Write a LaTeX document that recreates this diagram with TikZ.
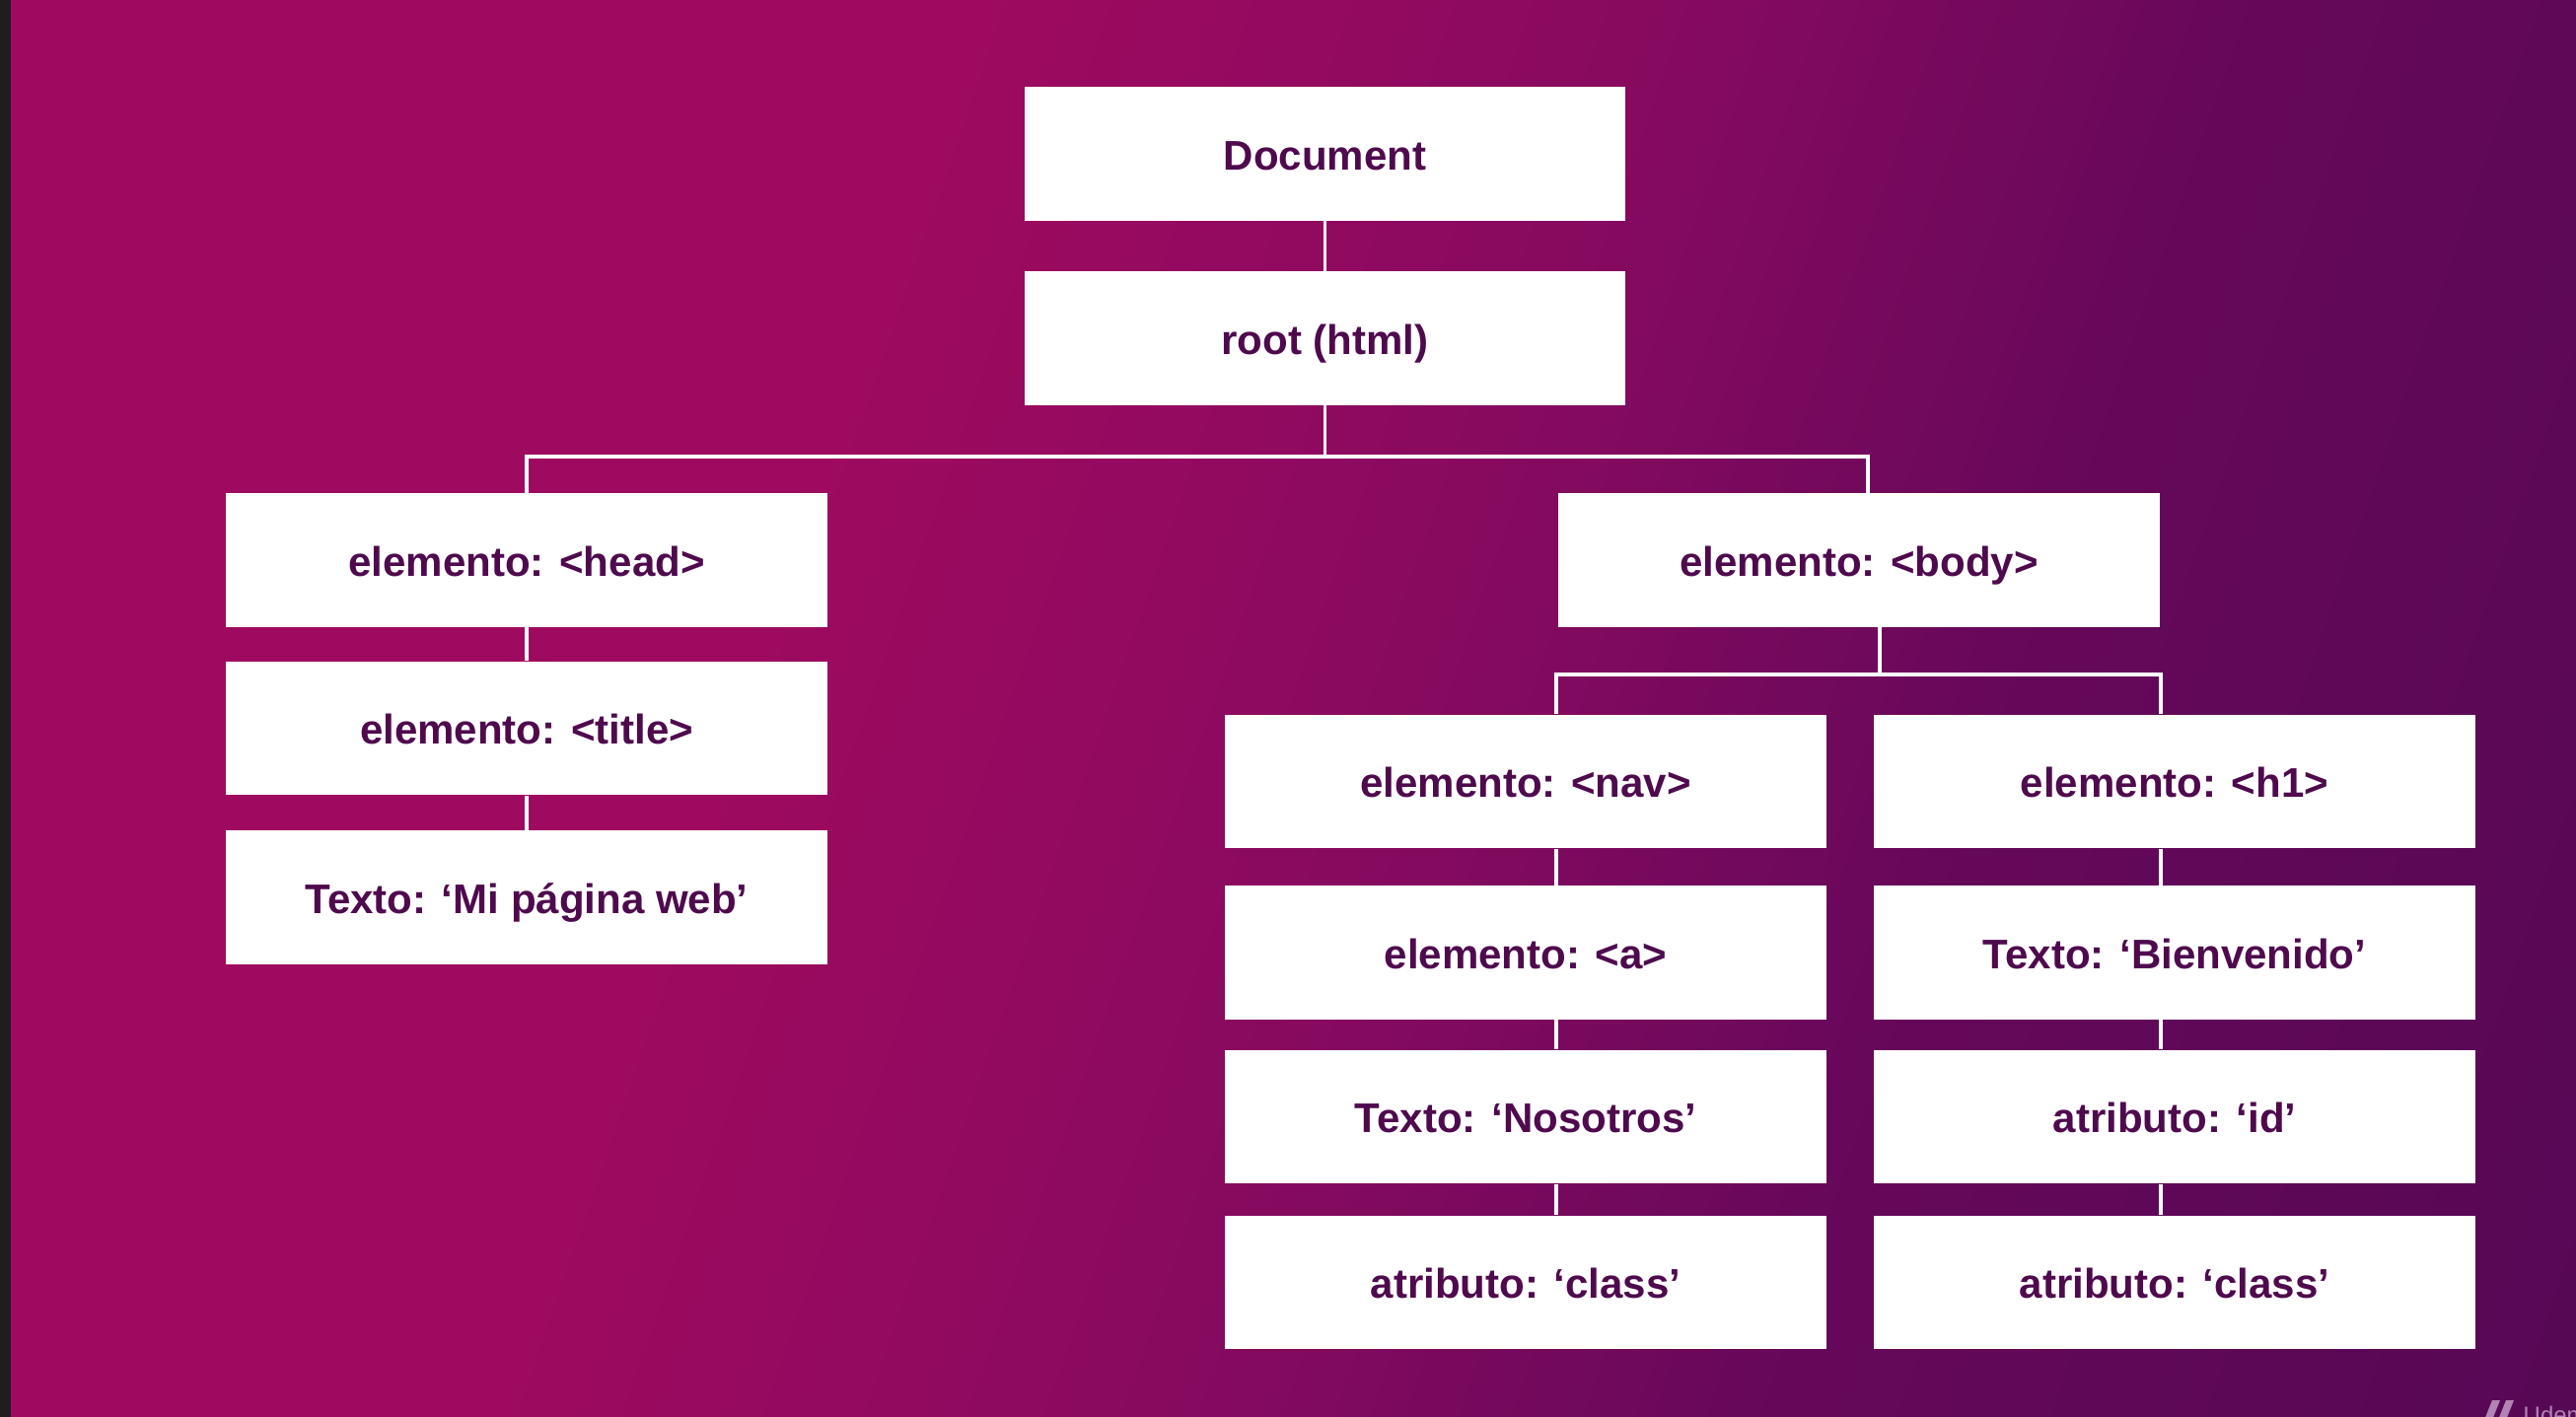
\documentclass[tikz,border=0pt]{standalone}
\usepackage{fontspec}
\setmainfont{Liberation Sans}
\usetikzlibrary{calc}
\definecolor{bgA}{HTML}{9E0A5F}
\definecolor{bgB}{HTML}{930A60}
\definecolor{bgC}{HTML}{840A5F}
\definecolor{bgD}{HTML}{66085A}
\definecolor{bgE}{HTML}{560855}
\definecolor{stripc}{HTML}{1C1E20}
\definecolor{txtc}{HTML}{4F0A4E}
\definecolor{wmark}{HTML}{B084B4}
\pgfdeclarehorizontalshading{bgshade}{100bp}{color(0bp)=(bgA); color(38bp)=(bgA); color(46bp)=(bgB); color(54bp)=(bgC); color(65bp)=(bgD); color(82bp)=(bgE); color(100bp)=(bgE)}
\begin{document}
\begin{tikzpicture}[x=0.01cm,y=-0.01cm,
  box/.style={fill=white, minimum width=6.09cm, minimum height=1.355cm, inner sep=0pt,
    text height=0.42cm, text depth=0.10cm,
    text=txtc, font=\fontsize{11.95pt}{14pt}\selectfont\bfseries},
  conn/.style={draw=white, line width=0.9pt}]
\useasboundingbox (0,0) rectangle (2612,1437);
\shade[shading=bgshade, shading angle=-19.1] (0,0) rectangle (2612,1437);
\fill[stripc] (0,0) rectangle (11,1437);

% nodes
\node[box] (doc)   at (1343.5,156) {Document};
\node[box] (root)  at (1343.5,343) {root (html)};
\node[box] (head)  at (534,568)    {elemento: <head>};
\node[box] (title) at (534,738.5)  {elemento: <title>};
\node[box] (mipag) at (534,910)    {Texto: ‘Mi página web’};
\node[box] (body)  at (1885,568)   {elemento: <body>};
\node[box] (nav)   at (1547,792.5) {elemento: <nav>};
\node[box] (aa)    at (1547,966)   {elemento: <a>};
\node[box] (noso)  at (1547,1132.5){Texto: ‘Nosotros’};
\node[box] (cls1)  at (1547,1300.5){atributo: ‘class’};
\node[box] (hone)  at (2205,792.5) {elemento: <h1>};
\node[box] (bien)  at (2205,966)   {Texto: ‘Bienvenido’};
\node[box] (idd)   at (2205,1132.5){atributo: ‘id’};
\node[box] (cls2)  at (2205,1300.5){atributo: ‘class’};

% junction coordinates
\coordinate (j1) at (1343.5,463);
\coordinate (bt) at (1894,463);
\coordinate (j2) at (1906,684);
\coordinate (navx) at (1578,684);
\coordinate (h1x) at (2191,684);

% connectors
\draw[conn] (doc.south) -- (root.north);
\draw[conn] (root.south) -- (j1);
\draw[conn] (head.north) |- (j1) -- (bt) -- (bt |- body.north);
\draw[conn] (head.south) -- (title.north);
\draw[conn] (title.south) -- (mipag.north);
\draw[conn] (j2 |- body.south) -- (j2);
\draw[conn] (navx |- nav.north) -- (navx) -- (h1x) -- (h1x |- hone.north);
\draw[conn] (navx |- nav.south) -- (navx |- aa.north);
\draw[conn] (navx |- aa.south) -- (navx |- noso.north);
\draw[conn] (navx |- noso.south) -- (navx |- cls1.north);
\draw[conn] (h1x |- hone.south) -- (h1x |- bien.north);
\draw[conn] (h1x |- bien.south) -- (h1x |- idd.north);
\draw[conn] (h1x |- idd.south) -- (h1x |- cls2.north);

% watermark (clipped at the lower edge, as in the reference)
\begin{scope}
\clip (0,0) rectangle (2612,1437);
\fill[wmark] (2519,1440) -- (2527,1420) -- (2535,1420) -- (2527,1440) -- cycle;
\fill[wmark] (2533,1440) -- (2541,1420) -- (2549,1420) -- (2541,1440) -- cycle;
\node[anchor=north west, inner sep=0pt, text=wmark, font=\fontsize{6.8pt}{8pt}\selectfont] (wm) at (2558,1425) {Udemy};
\end{scope}
\end{tikzpicture}
\end{document}
